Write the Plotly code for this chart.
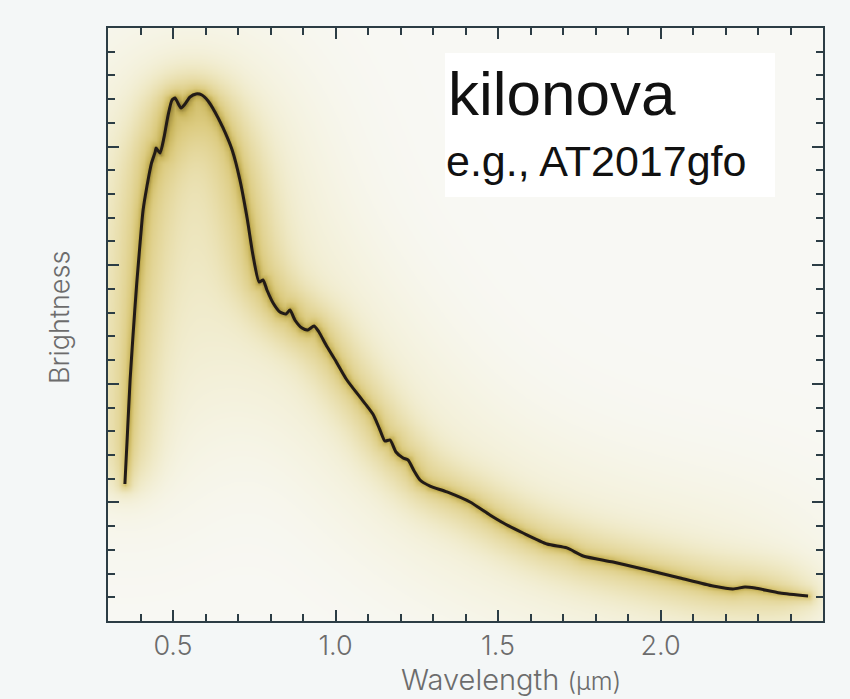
import numpy as np
import plotly.graph_objects as go

# Kilonova spectrum (AT2017gfo-like), wavelength in micrometres, brightness in arbitrary units
wavelength_um = [
    0.352, 0.360, 0.368, 0.377, 0.388, 0.399, 0.408, 0.420, 0.434, 0.445,
    0.448, 0.460, 0.472, 0.485, 0.497, 0.506, 0.515, 0.525, 0.537, 0.552,
    0.571, 0.589, 0.608, 0.629, 0.654, 0.682, 0.706, 0.728, 0.746, 0.765,
    0.777, 0.789, 0.808, 0.829, 0.848, 0.860, 0.875, 0.897, 0.915, 0.934,
    0.949, 0.971, 0.999, 1.035, 1.075, 1.115, 1.137, 1.152, 1.168, 1.186,
    1.208, 1.223, 1.242, 1.260, 1.291, 1.343, 1.414, 1.475, 1.522, 1.577,
    1.651, 1.712, 1.762, 1.854, 1.959, 2.060, 2.162, 2.223, 2.260, 2.291,
    2.368, 2.454,
]
brightness = [
    1.155, 1.594, 2.032, 2.411, 2.833, 3.196, 3.465, 3.668, 3.862, 3.954,
    3.988, 3.946, 4.073, 4.266, 4.393, 4.410, 4.368, 4.325, 4.359, 4.418,
    4.444, 4.435, 4.384, 4.292, 4.157, 3.971, 3.718, 3.398, 3.086, 2.858,
    2.875, 2.791, 2.681, 2.605, 2.589, 2.622, 2.538, 2.470, 2.454, 2.487,
    2.437, 2.327, 2.201, 2.032, 1.889, 1.745, 1.610, 1.518, 1.526, 1.425,
    1.374, 1.358, 1.265, 1.189, 1.138, 1.088, 1.003, 0.894, 0.818, 0.742,
    0.649, 0.616, 0.548, 0.497, 0.430, 0.363, 0.295, 0.270, 0.287, 0.278,
    0.236, 0.211,
]

x_tick_values = [0.5, 1.0, 1.5, 2.0]
x_tick_labels = ["0.5", "1.0", "1.5", "2.0"]

X_RANGE = [0.3, 2.5]
Y_RANGE = [0.0, 5.0]

AXIS = "#2c3d45"
LABEL_GREY = "#6c6c6c"
LIGHT_FONT = dict(family="Inter, Lato, Roboto, sans-serif", color=LABEL_GREY, weight=300)

# Plot-area size in pixels, used to make the glow round in screen space
MARGIN = dict(l=108, r=27, t=28, b=78)
FIG_W, FIG_H = 850, 699
px_per_x = (FIG_W - MARGIN["l"] - MARGIN["r"]) / (X_RANGE[1] - X_RANGE[0])
px_per_y = (FIG_H - MARGIN["t"] - MARGIN["b"]) / (Y_RANGE[1] - Y_RANGE[0])


def erf(v):
    # Abramowitz & Stegun 7.1.26
    s = np.sign(v)
    a = np.abs(v)
    t = 1.0 / (1.0 + 0.3275911 * a)
    poly = t * (0.254829592 + t * (-0.284496736 + t * (1.421413741
           + t * (-1.453152027 + t * 1.061405429))))
    return s * (1.0 - poly * np.exp(-a * a))


def glow_field(xs, ys, gx, gy):
    """Distance-based glow around the polyline (xs, ys), evaluated on grid gx, gy."""
    px = (np.asarray(xs) - X_RANGE[0]) * px_per_x
    py = (np.asarray(ys) - Y_RANGE[0]) * px_per_y
    GX, GY = np.meshgrid((gx - X_RANGE[0]) * px_per_x, (gy - Y_RANGE[0]) * px_per_y)
    P = np.stack([GX, GY], axis=-1)[..., None, :]          # (ny, nx, 1, 2)
    A = np.stack([px[:-1], py[:-1]], axis=-1)              # (nseg, 2)
    B = np.stack([px[1:], py[1:]], axis=-1)
    seg = B - A
    L = np.linalg.norm(seg, axis=-1)
    u = seg / L[:, None]
    rel = P - A
    t = (rel * u).sum(-1)                                  # along-segment coordinate
    perp = rel - t[..., None] * u
    h2 = (perp ** 2).sum(-1)
    tc = np.clip(t, 0.0, L)
    dmin = np.sqrt(((rel - tc[..., None] * u) ** 2).sum(-1)).min(-1)

    def line_gauss(sigma):
        k = np.sqrt(2.0) * sigma
        part = 0.5 * (erf((L - t) / k) + erf(t / k))
        return (np.exp(-h2 / (2 * sigma ** 2)) * part).sum(-1)

    return 0.55 * np.exp(-dmin / 5.0) + 0.32 * line_gauss(22.0) + 0.17 * line_gauss(72.0)


grid_x = np.linspace(X_RANGE[0], X_RANGE[1], 300)
grid_y = np.linspace(Y_RANGE[0], Y_RANGE[1], 240)
glow = glow_field(wavelength_um, brightness, grid_x, grid_y)

glow_scale = [
    [0.00, "#f8f8f4"],
    [0.09, "#f5f3e2"],
    [0.23, "#efe9c6"],
    [0.41, "#e6daa2"],
    [0.59, "#dccb80"],
    [0.77, "#c9b55c"],
    [1.00, "#9a873a"],
]

fig = go.Figure()

fig.add_trace(go.Heatmap(
    x=grid_x, y=grid_y, z=glow, zmin=0, zmax=1.1, zsmooth="best",
    colorscale=glow_scale, showscale=False, hoverinfo="skip",
))

# The spectrum itself
fig.add_trace(go.Scatter(
    x=wavelength_um, y=brightness, mode="lines",
    line=dict(color="#221b17", width=3, shape="spline", smoothing=0.6),
    showlegend=False,
))

tick_common = dict(
    ticks="inside", tickcolor=AXIS, tickwidth=2,
    showline=True, linecolor=AXIS, linewidth=2, mirror="allticks",
    showgrid=False, zeroline=False,
)

fig.update_xaxes(
    range=X_RANGE, tickmode="array", tickvals=x_tick_values, ticktext=x_tick_labels,
    ticklen=11, tickfont=dict(size=27, **LIGHT_FONT), ticklabelstandoff=0,
    minor=dict(dtick=0.1, tick0=0, ticks="inside", ticklen=7, tickwidth=2,
               tickcolor=AXIS, showgrid=False),
    **tick_common,
)
fig.update_yaxes(
    range=Y_RANGE, dtick=1, tick0=0, ticklen=11, showticklabels=False,
    minor=dict(dtick=0.2, tick0=0, ticks="inside", ticklen=7, tickwidth=2,
               tickcolor=AXIS, showgrid=False),
    **tick_common,
)

fig.update_layout(
    width=FIG_W, height=FIG_H, autosize=False,
    margin=MARGIN,
    paper_bgcolor="#f4f7f7", plot_bgcolor="#f8f8f4",
    shapes=[dict(type="rect", xref="paper", yref="paper",
                 x0=0.4713, x1=0.9329, y0=0.715, y1=0.958,
                 fillcolor="white", line=dict(width=0), layer="above")],
    annotations=[
        dict(text="Wavelength <span style='font-size:25px'>(\u00b5m)</span>",
             xref="paper", yref="paper", x=0.5636, y=-0.099, xanchor="center", yanchor="middle",
             showarrow=False, font=dict(size=29, **LIGHT_FONT)),
        dict(text="Brightness", xref="paper", yref="paper", x=-0.067, y=0.511,
             textangle=-90, xanchor="center", yanchor="middle", showarrow=False,
             font=dict(size=27, **LIGHT_FONT)),
        dict(text="kilonova", xref="paper", yref="paper", x=0.4727, y=0.889,
             xanchor="left", yanchor="middle", showarrow=False,
             font=dict(family="Liberation Sans, Arial, sans-serif", size=62, color="#111111")),
        dict(text="e.g., AT2017gfo", xref="paper", yref="paper", x=0.4699, y=0.776,
             xanchor="left", yanchor="middle", showarrow=False,
             font=dict(family="Liberation Sans, Arial, sans-serif", size=43, color="#111111")),
    ],
)

fig.write_html("out.html")
